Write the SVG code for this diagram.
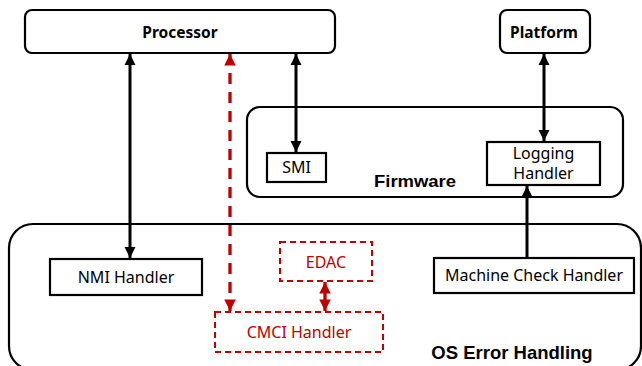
<svg xmlns="http://www.w3.org/2000/svg" width="642" height="366" viewBox="0 0 642 366">
<defs>
<style>
.box{fill:#fff;stroke:#000;stroke-width:2.2}
.rbox{fill:#fff;stroke:#c00000;stroke-width:2;stroke-dasharray:6 4}
.lbl{font-family:"Noto Sans",sans-serif;font-size:16px;fill:#000;text-anchor:middle}
.rlbl{font-family:"Noto Sans",sans-serif;font-size:16px;fill:#c00000;text-anchor:middle}
.blbl{font-family:"Noto Sans",sans-serif;font-size:15.5px;font-weight:bold;fill:#000;text-anchor:middle}
.albl{font-family:"Liberation Sans",Arial,sans-serif;font-weight:bold;fill:#000;text-anchor:middle}
.arr{stroke:#000;stroke-width:3;fill:none}
.rarr{stroke:#c00000;stroke-width:3.3;fill:none}
</style>
<marker id="ah" viewBox="0 0 10 10" refX="10" refY="5" markerWidth="3.8" markerHeight="3.8" orient="auto-start-reverse" markerUnits="strokeWidth">
<path d="M0,0 L10,5 L0,10 z" fill="#000"/>
</marker>
<marker id="rah" viewBox="0 0 10 10" refX="10" refY="5" markerWidth="3.5" markerHeight="3.5" orient="auto-start-reverse" markerUnits="strokeWidth">
<path d="M0,0 L10,5 L0,10 z" fill="#c00000"/>
</marker>
</defs>

<g id="os-error-handling">
<rect class="box" x="9" y="224" width="632" height="146" rx="24"/>
<text class="albl" x="512" y="359" font-size="18.5">OS Error Handling</text>
</g>

<g id="firmware">
<rect class="box" x="247" y="107" width="376" height="90" rx="13"/>
<text class="albl" x="415" y="187" font-size="16.5" textLength="82" lengthAdjust="spacingAndGlyphs">Firmware</text>
</g>

<g id="processor">
<rect class="box" x="25" y="10" width="310" height="43" rx="7"/>
<text class="blbl" x="180" y="38">Processor</text>
</g>

<g id="platform">
<rect class="box" x="500" y="10" width="90" height="43" rx="7"/>
<text class="blbl" x="544" y="38">Platform</text>
</g>

<g id="smi">
<rect class="box" x="267" y="153" width="59" height="29"/>
<text class="lbl" x="296.5" y="173">SMI</text>
</g>

<g id="logging-handler">
<rect class="box" x="487" y="142" width="113" height="43"/>
<text class="lbl" x="543.5" y="159">Logging</text>
<text class="lbl" x="543.5" y="179">Handler</text>
</g>

<g id="nmi-handler">
<rect class="box" x="50" y="259" width="152" height="36"/>
<text class="lbl" x="126" y="283">NMI Handler</text>
</g>

<g id="edac">
<rect class="rbox" x="280" y="242" width="92" height="39"/>
<text class="rlbl" x="326" y="268">EDAC</text>
</g>

<g id="cmci-handler">
<rect class="rbox" x="215" y="312" width="168" height="40"/>
<text class="rlbl" x="299" y="338">CMCI Handler</text>
</g>

<g id="machine-check-handler">
<rect class="box" x="434" y="258" width="200" height="35"/>
<text class="lbl" x="534" y="281">Machine Check Handler</text>
</g>

<g id="connectors">
<line class="arr" x1="130" y1="54" x2="130" y2="258" marker-start="url(#ah)" marker-end="url(#ah)"/>
<line class="arr" x1="296" y1="54" x2="296" y2="152" marker-start="url(#ah)" marker-end="url(#ah)"/>
<line class="arr" x1="544" y1="54" x2="544" y2="141" marker-start="url(#ah)" marker-end="url(#ah)"/>
<line class="arr" x1="527" y1="257" x2="527" y2="186" marker-end="url(#ah)"/>
<line class="rarr" x1="230" y1="54" x2="230" y2="311" stroke-dasharray="11 8" marker-start="url(#rah)" marker-end="url(#rah)"/>
<line class="rarr" x1="325" y1="282" x2="325" y2="311" marker-start="url(#rah)" marker-end="url(#rah)"/>
</g>
</svg>
